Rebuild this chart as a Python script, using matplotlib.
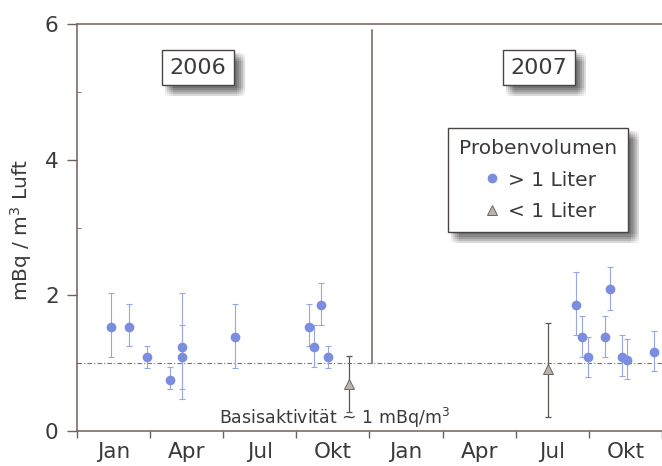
import matplotlib
matplotlib.use("Agg")
import matplotlib.pyplot as plt
import matplotlib.patheffects as pe
import numpy as np

plt.rcParams['font.family'] = ['DejaVu Sans']

# Monate ab Jan 2006 (0 = Anfang Januar 2006)
gross_monat = [1.42, 2.14, 2.88, 3.84, 4.33, 4.33, 6.48, 9.51, 9.71, 10.0, 10.29,
               20.49, 20.72, 20.97, 21.65, 21.87, 22.38, 22.55, 23.69]
gross_wert = [1.54, 1.54, 1.09, 0.76, 1.24, 1.09, 1.38, 1.54, 1.24, 1.86, 1.09,
              1.86, 1.38, 1.09, 1.39, 2.09, 1.09, 1.05, 1.17]
gross_unten = [1.09, 1.25, 0.93, 0.62, 0.47, 0.62, 0.93, 1.25, 0.95, 1.56, 0.93,
               1.41, 1.09, 0.79, 1.09, 1.79, 0.81, 0.77, 0.89]
gross_oben = [2.03, 1.87, 1.25, 0.95, 2.03, 1.56, 1.87, 1.87, 1.56, 2.19, 1.25,
              2.35, 1.70, 1.38, 1.70, 2.42, 1.41, 1.36, 1.48]

klein_monat = [11.16, 19.32]
klein_wert = [0.70, 0.91]
klein_unten = [0.28, 0.20]
klein_oben = [1.11, 1.59]

monate = ['Jan', 'Apr', 'Jul', 'Okt', 'Jan', 'Apr', 'Jul', 'Okt']
basis = 1.0

achse = '#6e625d'
schrift = '#3c3a39'
blau = '#7b8ddf'
blau_fehler = '#9aa6e4'
grau = '#b9b4ae'

fig = plt.figure(figsize=(6.62, 4.66), dpi=100)
ax = fig.add_axes([0.116, 0.075, 0.884, 0.873])

gm = np.array(gross_monat)
gw = np.array(gross_wert)
ax.errorbar(gm, gw, yerr=[gw - np.array(gross_unten), np.array(gross_oben) - gw],
            fmt='none', ecolor=blau_fehler, elinewidth=0.8, capsize=2.5, capthick=0.8, zorder=3)
ax.plot(gm, gw, 'o', color=blau, markersize=7, markeredgewidth=0, zorder=4,
        label='> 1 Liter')

km = np.array(klein_monat)
kw = np.array(klein_wert)
ax.errorbar(km, kw, yerr=[kw - np.array(klein_unten), np.array(klein_oben) - kw],
            fmt='none', ecolor='#5d5550', elinewidth=0.9, capsize=2.5, capthick=0.9, zorder=3)
ax.plot(km, kw, '^', color=grau, markersize=7.5, markeredgecolor='#6d6660',
        markeredgewidth=0.7, zorder=4, label='< 1 Liter')

# Basislinie und Trennlinie zwischen den Jahren
ax.axhline(basis, color='#7a7471', lw=0.8, ls=(0, (4, 2, 1, 2)), zorder=1)
ax.plot([12.1, 12.1], [basis, 5.92], color=achse, lw=1.1, zorder=2)

ax.set_xlim(0, 24)
ax.set_ylim(0, 6)
ax.set_xticks(np.arange(0, 25, 3))
ax.set_xticklabels([])
ax.set_xticks(np.arange(1.5, 24, 3), minor=True)
ax.set_xticklabels(monate, minor=True)
ax.tick_params(axis='x', which='major', direction='out', length=5, color=achse, width=1)
ax.tick_params(axis='x', which='minor', length=0, pad=8, labelsize=15.5, labelcolor=schrift)
ax.set_yticks([0, 2, 4, 6])
ax.set_yticks([1, 3, 5], minor=True)
ax.tick_params(axis='y', which='major', direction='out', length=7, color=achse, width=1,
               labelsize=15.5, labelcolor=schrift, pad=6)
ax.tick_params(axis='y', which='minor', direction='in', length=3, color=achse)

for s in ['left', 'bottom', 'top']:
    ax.spines[s].set_color(achse)
    ax.spines[s].set_linewidth(1.1)
ax.spines['right'].set_visible(False)

ax.set_ylabel('mBq / m$^3$ Luft', fontsize=14.5, color=schrift)
ax.yaxis.set_label_coords(-0.073, 0.495)

# weicher Schatten: viele leicht versetzte, transparente Kopien
schatten = [pe.SimplePatchShadow(offset=(dx, -dy), shadow_rgbFace='#222222', alpha=0.035)
            for dx in (2, 3.5, 5, 6.5, 8) for dy in (2, 3.5, 5, 6.5, 8)] + [pe.Normal()]

for jahr, xpos in [('2006', 4.98), ('2007', 18.96)]:
    t = ax.text(xpos, 5.36, jahr, fontsize=16, color=schrift, ha='center', va='center',
                bbox=dict(boxstyle='square,pad=0.34', fc='white', ec='#4a4542', lw=1))
    t.get_bbox_patch().set_path_effects(schatten)

ax.text(10.57, 0.19, 'Basisaktivität ~ 1 mBq/m$^3$', fontsize=12.5, color=schrift,
        ha='center', va='center')

leg = ax.legend(title='Probenvolumen', loc='upper left', bbox_to_anchor=(0.634, 0.744),
                borderaxespad=0,
                fontsize=14.5, title_fontsize=14.5, frameon=True, fancybox=False,
                framealpha=1, facecolor='white',
                edgecolor='#4a4542', handletextpad=0.2, borderpad=0.55, labelspacing=0.6,
                markerscale=1.0, handlelength=1.2)
leg.get_frame().set_linewidth(1)
leg.get_frame().set_path_effects(schatten)
leg.get_title().set_color(schrift)
for txt in leg.get_texts():
    txt.set_color(schrift)

fig.savefig('out.png', dpi=100)
